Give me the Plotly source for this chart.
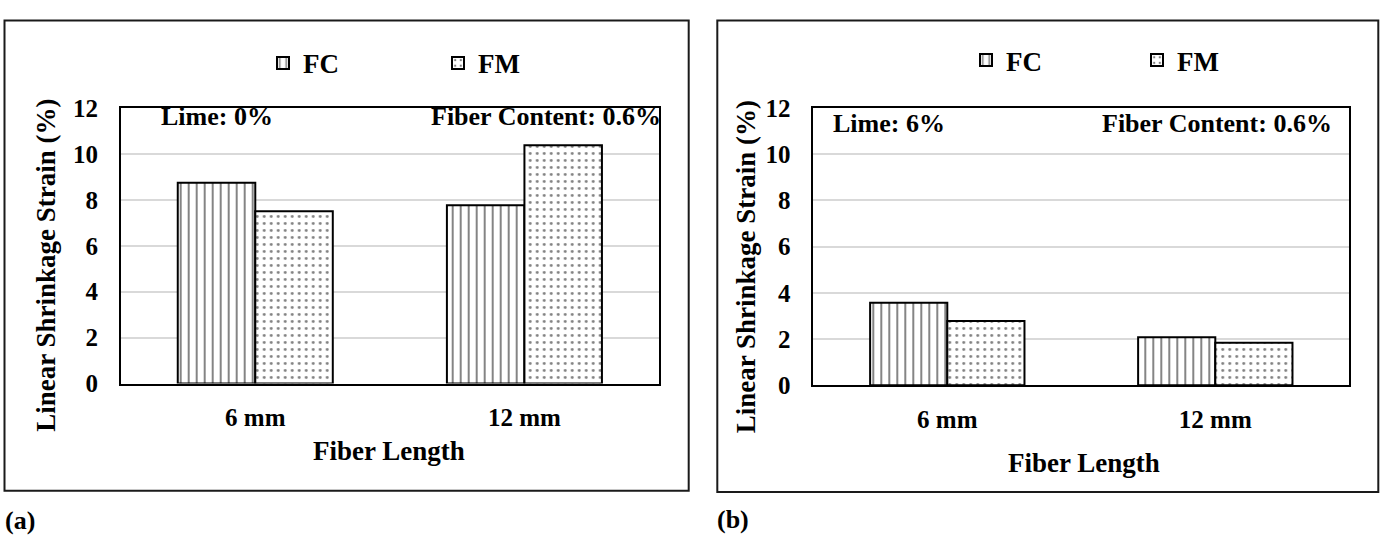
import plotly.graph_objects as go

W, H = 1382, 542

categories = ["6 mm", "12 mm"]
series_names = ["FC", "FM"]
fc_lime0 = [8.75, 7.77]
fm_lime0 = [7.50, 10.38]
fc_lime6 = [3.57, 2.08]
fm_lime6 = [2.78, 1.84]
y_ticks = [0, 2, 4, 6, 8, 10, 12]

FONT = "Liberation Serif, Times New Roman, serif"


def px_x(x):
    return x / W


def px_y(y):
    return 1 - y / H


patterns = {
    "FC": dict(shape="|", size=8, solidity=0.24, fgcolor="black", bgcolor="white", fillmode="overlay"),
    "FM": dict(shape=".", size=7, solidity=0.13, fgcolor="black", bgcolor="white", fillmode="overlay"),
}

fig = go.Figure()

panels = [
    dict(vals=[fc_lime0, fm_lime0], xa="x", ya="y", legend="legend"),
    dict(vals=[fc_lime6, fm_lime6], xa="x2", ya="y2", legend="legend2"),
]

for p in panels:
    for name, vals in zip(series_names, p["vals"]):
        fig.add_trace(go.Bar(
            x=categories, y=vals, name=name,
            xaxis=p["xa"], yaxis=p["ya"], legend=p["legend"],
            marker=dict(color="white", pattern=patterns[name],
                        line=dict(color="black", width=2)),
        ))

axis_common_x = dict(
    type="category", showline=True, mirror=True, linecolor="black", linewidth=1.5,
    ticks="", showgrid=False, zeroline=False,
    tickfont=dict(family=FONT, size=25, color="black", weight="bold"),
    ticklabelstandoff=11,
)
axis_common_y = dict(
    range=[0, 12], tickvals=y_ticks, showline=True, mirror=True, linecolor="black",
    linewidth=1.5, ticks="", showgrid=True, gridcolor="#d9d9d9", gridwidth=1.5,
    zeroline=False,
    tickfont=dict(family=FONT, size=25, color="black", weight="bold"),
    ticklabelstandoff=16,
)

fig.update_layout(
    width=W, height=H,
    margin=dict(l=0, r=0, t=0, b=0),
    paper_bgcolor="white", plot_bgcolor="white",
    barmode="group", bargap=0.424, bargroupgap=0,
    xaxis=dict(domain=[px_x(120.7), px_x(659)], anchor="y", **axis_common_x),
    yaxis=dict(domain=[px_y(390), px_y(100)], anchor="x", **axis_common_y),
    xaxis2=dict(domain=[px_x(813.3), px_x(1349.3)], anchor="y2", **axis_common_x),
    yaxis2=dict(domain=[px_y(391.7), px_y(100)], anchor="x2", **axis_common_y),
    legend=dict(orientation="h", x=px_x(263), y=px_y(53), xanchor="left", yanchor="middle",
                font=dict(family=FONT, size=27, color="black", weight="bold"),
                entrywidth=130, entrywidthmode="pixels", bgcolor="rgba(0,0,0,0)"),
    legend2=dict(orientation="h", x=px_x(966), y=px_y(50), xanchor="left", yanchor="middle",
                 font=dict(family=FONT, size=27, color="black", weight="bold"),
                 entrywidth=126, entrywidthmode="pixels", bgcolor="rgba(0,0,0,0)"),
    showlegend=True,
)

# Outer frames
for x0, x1, y0, y1 in [(4.5, 688.7, 8, 502.7), (717.3, 1378.3, 8, 504)]:
    fig.add_shape(type="rect", xref="paper", yref="paper",
                  x0=px_x(x0), x1=px_x(x1), y0=px_y(y1), y1=px_y(y0),
                  line=dict(color="#1a1a1a", width=2), fillcolor="rgba(0,0,0,0)")

tf = lambda s: dict(family=FONT, size=s, color="black", weight="bold")

annotations = [
    # in-plot labels
    dict(text="Lime: 0%", x=px_x(159), y=px_y(109), xanchor="left", yanchor="middle", font=tf(26)),
    dict(text="Fiber Content: 0.6%", x=px_x(663), y=px_y(109), xanchor="right", yanchor="middle", font=tf(26)),
    dict(text="Lime: 6%", x=px_x(831), y=px_y(116), xanchor="left", yanchor="middle", font=tf(26)),
    dict(text="Fiber Content: 0.6%", x=px_x(1334), y=px_y(116), xanchor="right", yanchor="middle", font=tf(26)),
    # axis titles
    dict(text="Fiber Length", x=px_x(389.5), y=px_y(461), xanchor="center", yanchor="middle", font=tf(27)),
    dict(text="Fiber Length", x=px_x(1084), y=px_y(474), xanchor="center", yanchor="middle", font=tf(27)),
    dict(text="Linear Shrinkage Strain (%)", x=px_x(46), y=px_y(266), xanchor="center", yanchor="middle",
         textangle=-90, font=tf(27)),
    dict(text="Linear Shrinkage Strain (%)", x=px_x(745.6), y=px_y(267), xanchor="center", yanchor="middle",
         textangle=-90, font=tf(27)),
    # panel labels
    dict(text="(a)", x=px_x(3), y=px_y(534), xanchor="left", yanchor="middle", font=tf(26)),
    dict(text="(b)", x=px_x(715), y=px_y(533), xanchor="left", yanchor="middle", font=tf(26)),
]
for a in annotations:
    fig.add_annotation(xref="paper", yref="paper", showarrow=False, **a)

fig.write_html("out.html")
